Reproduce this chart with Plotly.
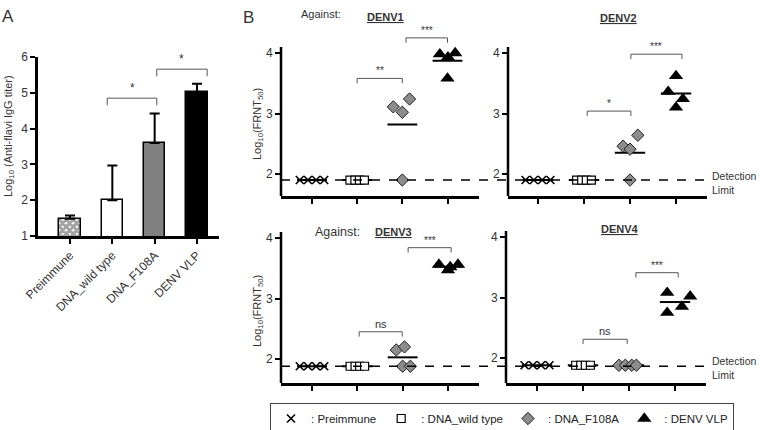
import plotly.graph_objects as go

W, H = 760, 430
FONT = "Liberation Sans, Arial, sans-serif"
TXT = "#333333"

# ---------------- data ----------------
groups = ["Preimmune", "DNA_wild type", "DNA_F108A", "DENV VLP"]
legend_names = [": Preimmune", ": DNA_wild type", ": DNA_F108A", ": DENV VLP"]

# Panel A: log10 anti-flavi IgG titer (mean, upper SD)
igg_mean = [1.48, 2.00, 3.60, 5.02]
igg_err = [0.09, 0.97, 0.82, 0.23]
igg_sig_x1 = [0.88, 2.05]
igg_sig_x2 = [2.05, 3.24]
igg_sig_h = [4.85, 5.66]
igg_sig_label = ["*", "*"]

# Panel B: log10(FRNT50) per mouse
serotypes = ["DENV1", "DENV2", "DENV3", "DENV4"]
detection_limit = [1.90, 1.90, 1.88, 1.88]

denv1_pre = [1.90, 1.90, 1.90, 1.90]
denv1_wt = [1.90, 1.90, 1.90, 1.90]
denv1_f108a = [3.11, 3.02, 3.24, 1.90]
denv1_vlp = [3.98, 3.93, 4.00, 3.58]

denv2_pre = [1.90, 1.90, 1.90, 1.90]
denv2_wt = [1.90, 1.90, 1.90, 1.90]
denv2_f108a = [2.46, 2.41, 2.64, 1.90]
denv2_vlp = [3.62, 3.36, 3.24, 3.10]

denv3_pre = [1.88, 1.88, 1.88, 1.88]
denv3_wt = [1.88, 1.88, 1.88, 1.88]
denv3_f108a = [2.15, 2.20, 1.88, 1.88]
denv3_vlp = [3.56, 3.56, 3.47, 3.52]

denv4_pre = [1.88, 1.88, 1.88, 1.88]
denv4_wt = [1.88, 1.88, 1.88, 1.88]
denv4_f108a = [1.88, 1.88, 1.88, 1.88]
denv4_vlp = [3.08, 3.02, 2.85, 2.75]

# horizontal jitter of the dots (style)
pre_dx = [-0.27, -0.09, 0.09, 0.27]
wt_dx = [-0.16, -0.05, 0.05, 0.16]
denv1_f108a_dx = [-0.20, 0.00, 0.16, 0.00]
denv1_vlp_dx = [-0.17, 0.01, 0.17, 0.00]
denv2_f108a_dx = [-0.15, 0.00, 0.17, 0.00]
denv2_vlp_dx = [0.00, -0.17, 0.15, 0.00]
denv3_f108a_dx = [-0.14, 0.04, 0.00, 0.17]
denv3_vlp_dx = [-0.20, 0.22, 0.00, 0.05]
denv4_f108a_dx = [-0.22, -0.08, 0.06, 0.16]
denv4_vlp_dx = [-0.17, 0.33, 0.15, -0.17]

# significance brackets in panel B: (x from, x to, height, label)
denv1_sig = ([1.00, 2.08], [2.00, 3.00], [3.58, 4.25], ["**", "***"])
denv2_sig = ([1.07, 2.02], [2.02, 3.13], [3.04, 3.98], ["*", "***"])
denv3_sig = ([1.04, 2.12], [1.99, 3.07], [2.45, 3.84], ["ns", "***"])
denv4_sig = ([1.00, 2.15], [1.96, 3.07], [2.31, 3.41], ["ns", "***"])

panel_b = [
    ([denv1_pre, denv1_wt, denv1_f108a, denv1_vlp],
     [pre_dx, wt_dx, denv1_f108a_dx, denv1_vlp_dx], denv1_sig),
    ([denv2_pre, denv2_wt, denv2_f108a, denv2_vlp],
     [pre_dx, wt_dx, denv2_f108a_dx, denv2_vlp_dx], denv2_sig),
    ([denv3_pre, denv3_wt, denv3_f108a, denv3_vlp],
     [pre_dx, wt_dx, denv3_f108a_dx, denv3_vlp_dx], denv3_sig),
    ([denv4_pre, denv4_wt, denv4_f108a, denv4_vlp],
     [pre_dx, wt_dx, denv4_f108a_dx, denv4_vlp_dx], denv4_sig),
]

# ---------------- layout helpers ----------------
def ydom(px_a, val_a, px_b, val_b, lo, hi):
    s = (px_b - px_a) / (val_a - val_b)
    top = px_a - (hi - val_a) * s
    bot = px_a + (val_a - lo) * s
    return [1 - bot / H, 1 - top / H]


def xrng(px0, px3, left, right):
    s = (px3 - px0) / 3.0
    return [(left - px0) / s, 3 + (right - px3) / s]


markers = [
    dict(symbol="x-thin", size=8, color="black", line=dict(width=1.6, color="black")),
    dict(symbol="square", size=8, color="white", line=dict(width=1.2, color="black")),
    dict(symbol="diamond", size=9.5, color="#8c8c8c", line=dict(width=1, color="#222")),
    dict(symbol="triangle-up", size=12.5, color="black", line=dict(width=0, color="black")),
]

fig = go.Figure()

# ---------------- Panel A ----------------
xs = list(range(len(groups)))
fig.add_trace(go.Bar(
    x=xs, y=igg_mean, width=0.5, xaxis="x", yaxis="y", showlegend=False,
    marker=dict(
        color=["white", "white", "#808080", "black"],
        line=dict(color="black", width=1.5),
        pattern=dict(shape=["x", "", "", ""], fgcolor="black", bgcolor="white",
                     size=5, solidity=0.8, fillmode="overlay"),
    ),
    error_y=dict(type="data", array=igg_err, arrayminus=[0, 0, 0, 0], symmetric=False,
                 color="black", thickness=2, width=5),
))
for x1, x2, h in zip(igg_sig_x1, igg_sig_x2, igg_sig_h):
    fig.add_trace(go.Scatter(x=[x1, x1, x2, x2], y=[h - 0.2, h, h, h - 0.2], mode="lines",
                             line=dict(color="#555", width=1), xaxis="x", yaxis="y",
                             showlegend=False, hoverinfo="skip"))

annotations = []
shapes = []
for x1, x2, h, lab in zip(igg_sig_x1, igg_sig_x2, igg_sig_h, igg_sig_label):
    annotations.append(dict(x=(x1 + x2) / 2, y=h, xref="x", yref="y", text=lab,
                            showarrow=False, yanchor="bottom", yshift=1,
                            font=dict(size=12, color=TXT, family=FONT)))

axis_common = dict(showgrid=False, zeroline=False, linecolor="black", ticks="outside",
                   tickcolor="black", mirror=False, automargin=False)

layout = dict(
    xaxis=dict(domain=[38 / W, 219 / W], range=xrng(70, 197, 38, 219), showline=True,
               linewidth=2.5, ticklen=5, tickwidth=2, tickvals=xs, ticktext=groups,
               tickangle=-45, tickfont=dict(size=12, color=TXT), anchor="y", **axis_common),
    yaxis=dict(domain=[1 - 236 / H, 1 - 57 / H], range=[1, 6], showline=True, linewidth=2.5,
               ticklen=5, tickwidth=2, tickvals=[1, 2, 3, 4, 5, 6],
               tickfont=dict(size=12, color=TXT), anchor="x", **axis_common),
)

# ---------------- Panel B ----------------
b_geom = [
    # x axis px: tick0, tick3, left, right ; y: px of 4, px of 2, bottom px
    (312, 447.5, 281, 479, 53, 174, 196),
    (538, 676, 508, 707, 53, 174, 196),
    (312, 448, 281, 479, 238, 359, 383),
    (537, 675, 506, 706, 237, 358, 383),
]
y_hi = 4.4
y_line_top = 4.1
for k, ((vals, dxs, sig), geom) in enumerate(zip(panel_b, b_geom)):
    n = k + 2
    xa, ya = "x%d" % n, "y%d" % n
    p0, p3, left, right, py4, py2, pbot = geom
    s = (py2 - py4) / 2.0
    lo = 2 - (pbot - py2) / s
    layout["xaxis%d" % n] = dict(domain=[left / W, right / W], range=xrng(p0, p3, left, right),
                                 showline=True, linewidth=2.5, ticklen=5, tickwidth=2,
                                 tickvals=xs, showticklabels=False, anchor=ya, **axis_common)
    layout["yaxis%d" % n] = dict(domain=ydom(py4, 4, py2, 2, lo, y_hi), range=[lo, y_hi],
                                 showline=False, ticklen=5, tickwidth=2, tickvals=[2, 3, 4],
                                 tickfont=dict(size=12, color=TXT), anchor=xa, **axis_common)
    shapes.append(dict(type="line", xref="%s domain" % xa, yref=ya, x0=0, x1=0, y0=lo,
                       y1=y_line_top, line=dict(color="black", width=2.5)))
    # mean lines
    for g, v in enumerate(vals):
        m = sum(v) / len(v)
        fig.add_trace(go.Scatter(x=[g - 0.33, g + 0.33], y=[m, m], mode="lines",
                                 line=dict(color="black", width=2), xaxis=xa, yaxis=ya,
                                 showlegend=False, hoverinfo="skip"))
    # points
    for g, (v, dx) in enumerate(zip(vals, dxs)):
        fig.add_trace(go.Scatter(x=[g + d for d in dx], y=v, mode="markers", marker=markers[g],
                                 xaxis=xa, yaxis=ya, name=legend_names[g],
                                 showlegend=(k == 0), cliponaxis=False))
    # brackets
    for x1, x2, h, lab in zip(*sig):
        fig.add_trace(go.Scatter(x=[x1, x1, x2, x2], y=[h - 0.08, h, h, h - 0.08],
                                 mode="lines", line=dict(color="#555", width=1),
                                 xaxis=xa, yaxis=ya, showlegend=False, hoverinfo="skip"))
        annotations.append(dict(x=(x1 + x2) / 2, y=h, xref=xa, yref=ya, text=lab,
                                showarrow=False, yanchor="bottom", yshift=0,
                                font=dict(size=10 if lab != "ns" else 11, color=TXT,
                                          family=FONT)))

# detection limit dashed lines (span both panels of a row)
shapes.append(dict(type="line", xref="paper", yref="y2", x0=281 / W, x1=712 / W,
                   y0=detection_limit[0], y1=detection_limit[0],
                   line=dict(color="black", width=1.5, dash="dash")))
shapes.append(dict(type="line", xref="paper", yref="y4", x0=281 / W, x1=712 / W,
                   y0=detection_limit[2], y1=detection_limit[2],
                   line=dict(color="black", width=1.5, dash="dash")))
for yr, dl in (("y3", detection_limit[1]), ("y5", detection_limit[3])):
    annotations.append(dict(x=711 / W, y=dl, xref="paper", yref=yr, text="Detection<br>Limit",
                            showarrow=False, xanchor="left", yanchor="middle", align="left",
                            yshift=-3, borderpad=0,
                            font=dict(size=10.5, color=TXT, family=FONT)))


def pa(px, py, text, size=11, **kw):
    d = dict(x=px / W, y=1 - py / H, xref="paper", yref="paper", text=text, showarrow=False,
             xanchor="center", yanchor="middle", font=dict(size=size, color=TXT, family=FONT))
    d.update(kw)
    return d


annotations += [
    pa(8, 16, "A", 17),
    pa(248, 18, "B", 17),
    pa(321, 14, "Against:", 11),
    pa(385, 17, "<u><b>%s</b></u>" % serotypes[0], 11),
    pa(618, 18, "<u><b>%s</b></u>" % serotypes[1], 11),
    pa(337, 232, "Against:", 12.5),
    pa(393, 232, "<u><b>%s</b></u>" % serotypes[2], 11),
    pa(620, 229, "<u><b>%s</b></u>" % serotypes[3], 11),
    pa(9, 136, "Log<sub>10</sub> (Anti-flavi IgG titer)", 11, textangle=-90),
    pa(258, 124, "Log<sub>10</sub>(FRNT<sub>50</sub>)", 11, textangle=-90),
    pa(258, 311, "Log<sub>10</sub>(FRNT<sub>50</sub>)", 11, textangle=-90),
]

fig.update_layout(
    **layout,
    template="none",
    width=W, height=H, margin=dict(l=0, r=0, t=0, b=0, pad=0, autoexpand=False),
    paper_bgcolor="white", plot_bgcolor="white",
    font=dict(family=FONT, color=TXT, size=11),
    annotations=annotations, shapes=shapes,
    showlegend=True,
    legend=dict(orientation="h", x=502 / W, xanchor="center", y=1 - 403 / H, yanchor="top",
                bordercolor="#444", borderwidth=1, font=dict(size=11.5, color="#222"),
                itemwidth=30, tracegroupgap=0, traceorder="normal", bgcolor="white"),
    bargap=0,
)

fig.write_html("out.html", config={"displayModeBar": False},
               post_script="document.body.style.margin='0px';")
